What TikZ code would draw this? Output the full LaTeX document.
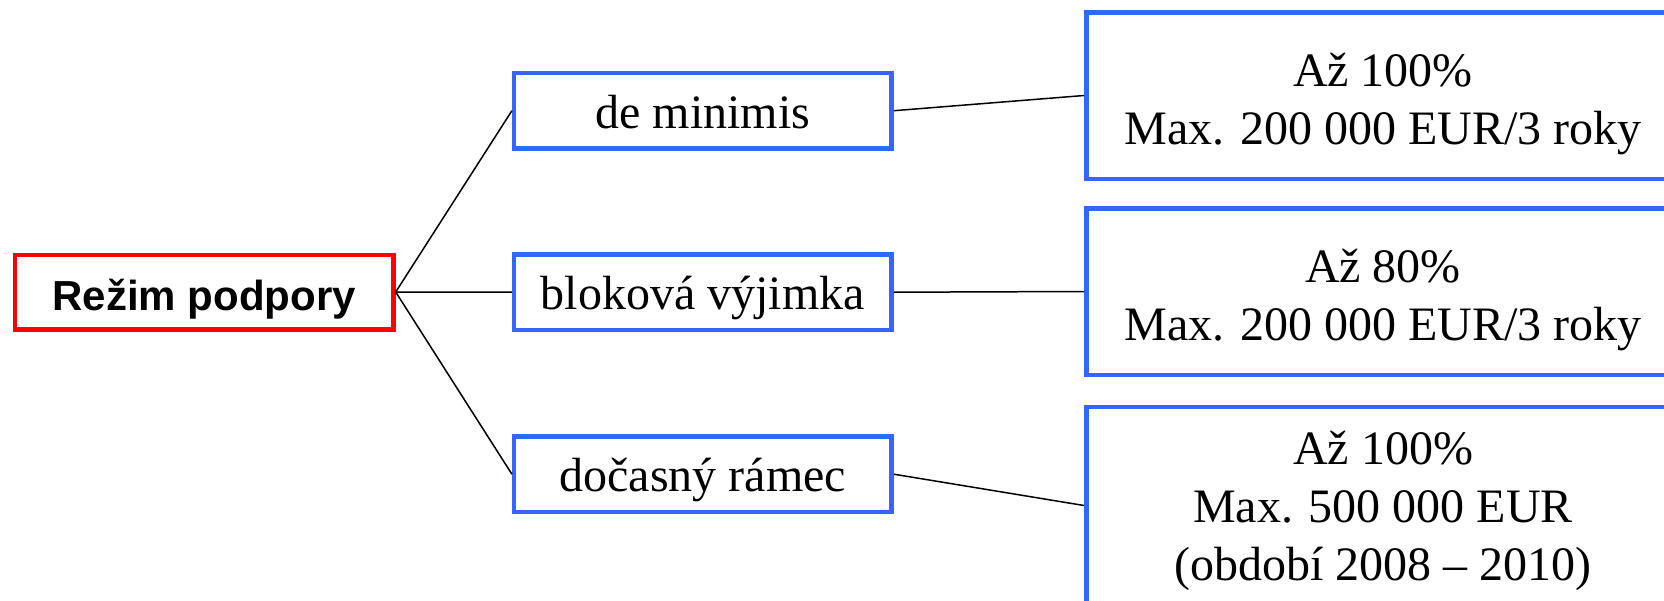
\documentclass[tikz,border=0pt]{standalone}
\usepackage{fontspec}
\setmainfont{Liberation Serif}
\newfontfamily\headfont{Liberation Sans}
\definecolor{boxblue}{HTML}{3366FF}
\definecolor{boxred}{HTML}{FF0000}
\newcommand{\topstrut}[1]{\rule{0pt}{#1}}
\begin{document}
\begin{tikzpicture}[x=1pt,y=-1pt,
  bluebox/.style={draw=boxblue, line width=4.5pt, rectangle, inner sep=0pt,
    font=\fontsize{48}{58}\selectfont, align=center},
  leftbox/.style={bluebox, minimum width=377.5pt, minimum height=75.5pt,
    text height=40pt, text depth=5pt},
  rightbox/.style={bluebox, minimum width=593.5pt, minimum height=166.5pt},
  rootbox/.style={draw=boxred, line width=4.5pt, rectangle, inner sep=0pt,
    minimum width=378.5pt, minimum height=74.5pt, text height=36pt, text depth=0pt,
    font=\headfont\bfseries\fontsize{42}{50}\selectfont},
  conn/.style={draw=black, line width=1.5pt}]
\useasboundingbox (0,0) rectangle (1664,600);
\clip (0,0) rectangle (1664,600);

\node[rootbox] (root) at (204.2,292) {Režim podpory};

\node[leftbox] (dm) at (702.9,110.7) {de minimis};
\node[leftbox] (bv) at (702.9,292.2) {bloková výjimka};
\node[leftbox] (dr) at (702.9,474.2) {dočasný rámec};

\node[rightbox] (r1) at (1383,95.5) {\topstrut{50pt}Až 100\%\\Max. 200 000 EUR/3 roky};
\node[rightbox] (r2) at (1383,291.5) {\topstrut{50pt}Až 80\%\\Max. 200 000 EUR/3 roky};
\node[rightbox, minimum height=197.5pt] (r3) at (1383,505.5) {\topstrut{44pt}Až 100\%\\Max. 500 000 EUR\\(období 2008 – 2010)};

\draw[conn] (root.east) -- (dm.west);
\draw[conn] (root.east) -- (bv.west);
\draw[conn] (root.east) -- (dr.west);
\draw[conn] (dm.east) -- (r1.west);
\draw[conn] (bv.east) -- (r2.west);
\draw[conn] (dr.east) -- (r3.west);
\end{tikzpicture}
\end{document}
